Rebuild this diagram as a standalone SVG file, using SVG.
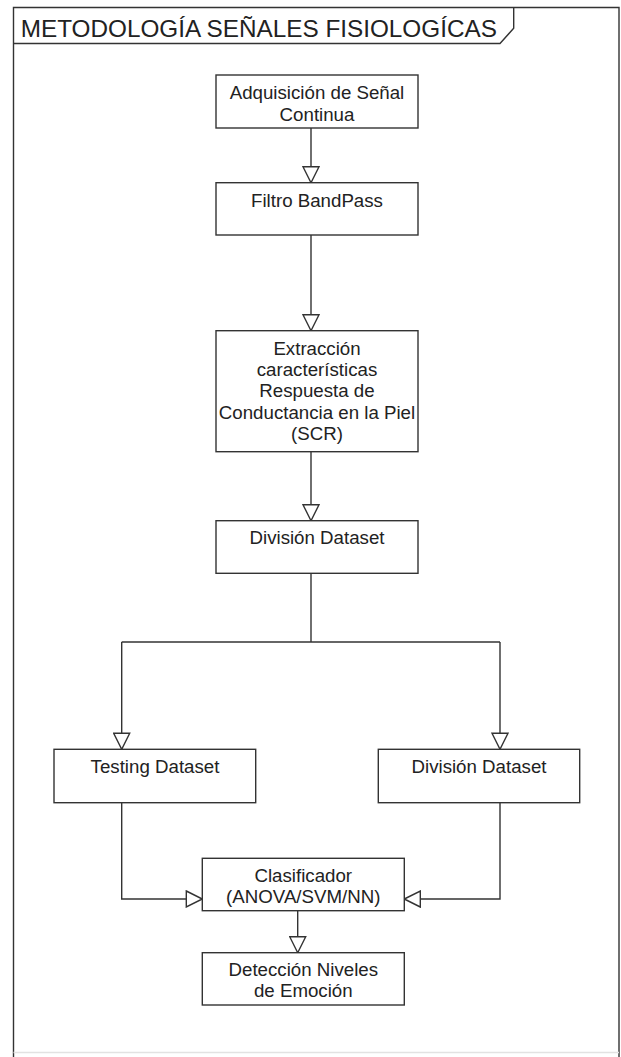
<svg xmlns="http://www.w3.org/2000/svg" width="621" height="1057" viewBox="0 0 621 1057">
  <style>
    .frame { fill: none; stroke: #333; stroke-width: 1.4; }
    .node rect { fill: #fff; stroke: #333; stroke-width: 1.4; }
    .node text, .title { font-family: "Liberation Sans", Arial, sans-serif; fill: #222; text-anchor: middle; }
    .node text { font-size: 18.7px; }
    .title { font-size: 24.3px; text-anchor: start; }
    .conn { fill: none; stroke: #333; stroke-width: 1.4; }
  </style>
  <defs>
    <marker id="tri" viewBox="-1 -1 18 18" markerWidth="18" markerHeight="18" refX="16" refY="8" orient="auto" markerUnits="userSpaceOnUse">
      <path d="M0,0 L16,8 L0,16 Z" fill="#fff" stroke="#333" stroke-width="1.4"/>
    </marker>
  </defs>
  <rect x="0" y="0" width="621" height="1057" fill="#fff"/>

  <g id="frame">
    <path class="frame" d="M13.5,1057 L13.5,7.5 L619,7.5 L619,1057"/>
    <line x1="13.5" y1="1052.5" x2="619" y2="1052.5" stroke="#e2e2e2" stroke-width="1.4"/>
    <path class="frame" d="M13.5,43.5 L500,43.5 L513.7,28.3 L513.7,7.5"/>
    <text class="title" x="20.7" y="37.3">METODOLOGÍA SEÑALES FISIOLOGÍCAS</text>
  </g>

  <g id="connectors">
    <path class="conn" d="M311,128 L311,182.7" marker-end="url(#tri)"/>
    <path class="conn" d="M311,235 L311,330.7" marker-end="url(#tri)"/>
    <path class="conn" d="M311,451.7 L311,520.7" marker-end="url(#tri)"/>
    <path class="conn" d="M311,573.3 L311,642"/>
    <path class="conn" d="M121.7,642 L500,642"/>
    <path class="conn" d="M121.7,642 L121.7,749.3" marker-end="url(#tri)"/>
    <path class="conn" d="M500,642 L500,749.3" marker-end="url(#tri)"/>
    <path class="conn" d="M121.7,802.7 L121.7,899 L202.3,899" marker-end="url(#tri)"/>
    <path class="conn" d="M500,802.7 L500,899 L404.3,899" marker-end="url(#tri)"/>
    <path class="conn" d="M297.7,910.7 L297.7,952.7" marker-end="url(#tri)"/>
  </g>

  <g id="n-adquisicion" class="node">
    <rect x="216" y="75" width="202" height="53"/>
    <text x="317" y="99">Adquisición de Señal</text>
    <text x="317" y="120.5">Continua</text>
  </g>
  <g id="n-filtro" class="node">
    <rect x="216" y="182.7" width="202" height="52.3"/>
    <text x="317" y="207.3">Filtro BandPass</text>
  </g>
  <g id="n-extraccion" class="node">
    <rect x="216" y="330.7" width="202" height="121"/>
    <text x="317" y="355">Extracción</text>
    <text x="317" y="376.2">características</text>
    <text x="317" y="397.4">Respuesta de</text>
    <text x="317" y="418.6">Conductancia en la Piel</text>
    <text x="317" y="439.8">(SCR)</text>
  </g>
  <g id="n-division" class="node">
    <rect x="216" y="520.7" width="202" height="52.6"/>
    <text x="317" y="544">División Dataset</text>
  </g>
  <g id="n-testing" class="node">
    <rect x="54" y="749.3" width="201.7" height="53.4"/>
    <text x="155" y="773.3">Testing Dataset</text>
  </g>
  <g id="n-division2" class="node">
    <rect x="378.3" y="749.3" width="201.4" height="53.4"/>
    <text x="479" y="773.3">División Dataset</text>
  </g>
  <g id="n-clasificador" class="node">
    <rect x="202.3" y="858.3" width="202" height="52.4"/>
    <text x="303.3" y="882.3">Clasificador</text>
    <text x="303.3" y="903.3">(ANOVA/SVM/NN)</text>
  </g>
  <g id="n-deteccion" class="node">
    <rect x="202.3" y="952.7" width="202" height="52.3"/>
    <text x="303.3" y="976">Detección Niveles</text>
    <text x="303.3" y="996.7">de Emoción</text>
  </g>
</svg>
